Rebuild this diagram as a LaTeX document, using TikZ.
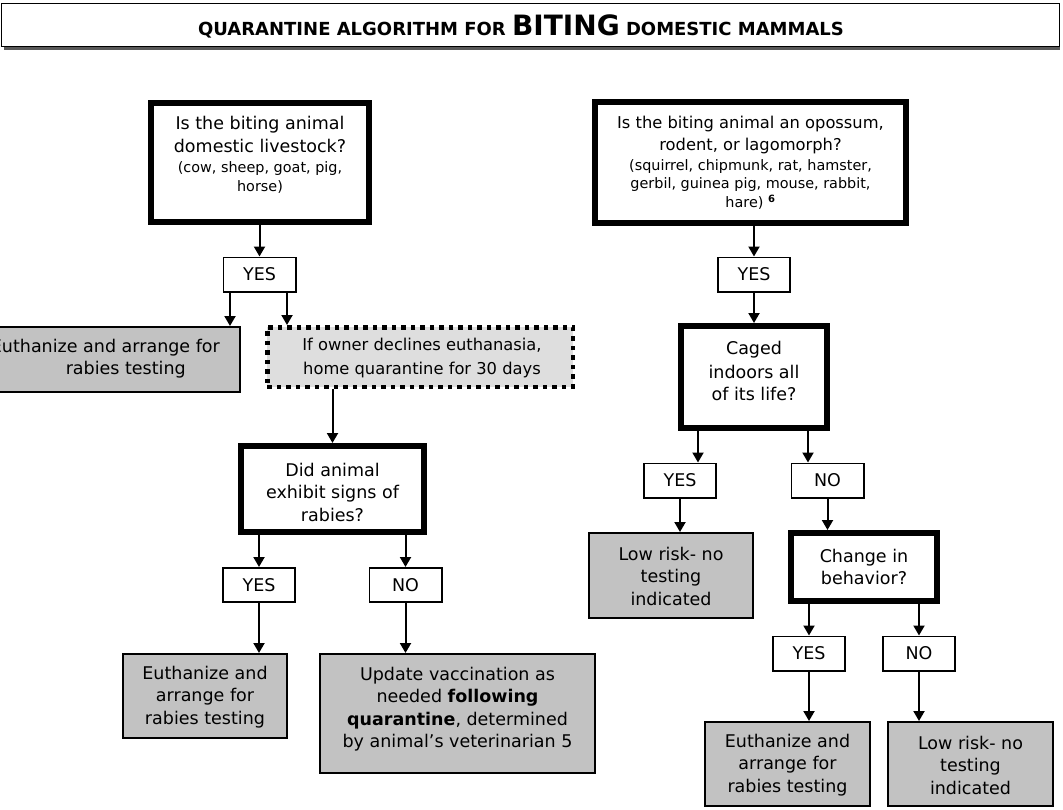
\documentclass[tikz,border=0pt]{standalone}
\usepackage{fontspec}
\setmainfont{DejaVu Sans}
\usetikzlibrary{arrows.meta,calc}
\newcommand{\fmain}{\fontsize{17.5}{22.5}\selectfont}
\newcommand{\fmid}{\fontsize{16.3}{21.5}\selectfont}
\newcommand{\fsmall}{\fontsize{14.4}{18.5}\selectfont}
\newcommand{\ftsmall}{\fontsize{18}{22}\selectfont\bfseries}
\newcommand{\ftbig}{\fontsize{28}{30}\selectfont\bfseries}
\definecolor{boxgray}{gray}{0.76}
\definecolor{dotgray}{gray}{0.87}
\begin{document}
\begin{tikzpicture}[x=1pt,y=-1pt,
  dec/.style={draw, line width=6pt, fill=white, inner sep=0pt},
  yn/.style={draw, line width=1.6pt, fill=white, inner sep=0pt, font=\fmain, minimum width=72.4pt, minimum height=34.4pt},
  act/.style={draw, line width=2pt, fill=boxgray, inner sep=0pt},
  dotbox/.style={draw, line width=4.5pt, dash pattern=on 4.5pt off 5pt, fill=dotgray, inner sep=0pt},
  txt/.style={align=center, inner sep=0pt, font=\fmain},
  arr/.style={line width=2pt, -{Triangle[length=10pt,width=11pt]}}]
\clip (0,0) rectangle (1063,809);
\fill[white] (0,0) rectangle (1063,809);

% title
\node[draw, line width=1.3pt, minimum width=1057.7pt, minimum height=42.7pt, inner sep=0pt] (title) at (530.5,25) {};
\draw[line width=3pt, black!65] ([xshift=3pt,yshift=-1.5pt]title.south west) -- ([yshift=-1.5pt]title.south east);
\node[inner sep=0pt] (titlet) at (521,26) {\ftsmall QUARANTINE ALGORITHM FOR {\ftbig BITING} DOMESTIC MAMMALS};

% left branch
\node[dec, minimum width=218pt, minimum height=119pt] (q1) at (260,162.5) {};
\node[txt] (q1t) at (260,155) {Is the biting animal\\domestic livestock?\\[-2pt]{\fsmall (cow, sheep, goat, pig,}\\[-4pt]{\fsmall horse)}};
\node[yn] (y1) at (259.5,274.5) {YES};
\node[act, minimum width=259pt, minimum height=65pt] (g1) at (110.5,359.5) {};
\node[txt, align=right, anchor=east] (g1t) at (220,358.5) {Euthanize and arrange for\\\makebox[0pt]{rabies testing}\hspace*{94pt}};
\node[dotbox, minimum width=305.5pt, minimum height=59.5pt] (d1) at (420,357) {};
\node[txt, font=\fmid] (d1t) at (422,358) {If owner declines euthanasia,\\[2pt]home quarantine for 30 days};
\node[dec, minimum width=183pt, minimum height=86pt] (q2) at (332.5,489) {};
\node[txt] (q2t) at (332.5,492) {Did animal\\exhibit signs of\\rabies?};
\node[yn] (y2) at (259,585) {YES};
\node[yn] (n2) at (405.5,585) {NO};
\node[act, minimum width=164pt, minimum height=84pt] (e2) at (205,696) {};
\node[txt] (e2t) at (205,697) {Euthanize and\\arrange for\\rabies testing};
\node[act, minimum width=275pt, minimum height=119pt] (u2) at (457.5,713.5) {};
\node[txt] (u2t) at (457.5,709) {Update vaccination as\\needed \textbf{following}\\\textbf{quarantine}, determined\\by animal’s veterinarian 5};

\coordinate (a1) at ([xshift=-29.5pt]y1.south);
\coordinate (b1) at ([xshift=27.5pt]y1.south);
\draw[arr] (q1.south -| y1) -- (y1.north);
\draw[arr] (a1) -- (a1 |- g1.north);
\draw[arr] (b1) -- (b1 |- d1.north);
\draw[arr] (d1.south -| q2) -- (q2.north);
\draw[arr] (q2.south -| y2) -- (y2.north);
\draw[arr] (q2.south -| n2) -- (n2.north);
\draw[arr] (y2.south) -- (y2.south |- e2.north);
\draw[arr] (n2.south) -- (n2.south |- u2.north);

% right branch
\node[dec, minimum width=311pt, minimum height=121pt] (q3) at (750.5,162.5) {};
\node[txt, font=\fmid] (q3t) at (750.5,163) {Is the biting animal an opossum,\\rodent, or lagomorph?\\[-1.5pt]{\fsmall (squirrel, chipmunk, rat, hamster,}\\[-3.5pt]{\fsmall gerbil, guinea pig, mouse, rabbit,}\\[-2pt]{\fsmall hare)~\textsuperscript{\textbf{6}}}};
\node[yn] (y3) at (754,274.5) {YES};
\node[dec, minimum width=146pt, minimum height=102pt] (q4) at (754,377) {};
\node[txt] (q4t) at (754,371) {Caged\\[1pt]indoors all\\of its life?};
\node[yn] (y4) at (680,480.5) {YES};
\node[yn] (n4) at (827.5,480.5) {NO};
\node[act, minimum width=164pt, minimum height=85pt] (l4) at (671,575.5) {};
\node[txt] (l4t) at (671,576) {Low risk- no\\testing\\indicated};
\node[dec, minimum width=146pt, minimum height=68pt] (q5) at (864,567) {};
\node[txt] (q5t) at (864,567) {Change in\\behavior?};
\node[yn] (y5) at (809,653.5) {YES};
\node[yn] (n5) at (919,653.5) {NO};
\node[act, minimum width=165pt, minimum height=84pt] (e5) at (787.5,764) {};
\node[txt] (e5t) at (787.5,765) {Euthanize and\\arrange for\\rabies testing};
\node[act, minimum width=165pt, minimum height=84pt] (l5) at (970.5,764) {};
\node[txt] (l5t) at (970.5,765) {Low risk- no\\testing\\indicated};

\coordinate (c4a) at ([xshift=18pt]y4.north);
\coordinate (c4b) at ([xshift=-19.5pt]n4.north);
\draw[arr] (q3.south -| y3) -- (y3.north);
\draw[arr] (y3.south) -- (y3.south |- q4.north);
\draw[arr] (c4a |- q4.south) -- (c4a);
\draw[arr] (c4b |- q4.south) -- (c4b);
\draw[arr] (y4.south) -- (y4.south |- l4.north);
\draw[arr] (n4.south) -- (n4.south |- q5.north);
\draw[arr] (q5.south -| y5) -- (y5.north);
\draw[arr] (q5.south -| n5) -- (n5.north);
\draw[arr] (y5.south) -- (y5.south |- e5.north);
\draw[arr] (n5.south) -- (n5.south |- l5.north);
\end{tikzpicture}
\end{document}
